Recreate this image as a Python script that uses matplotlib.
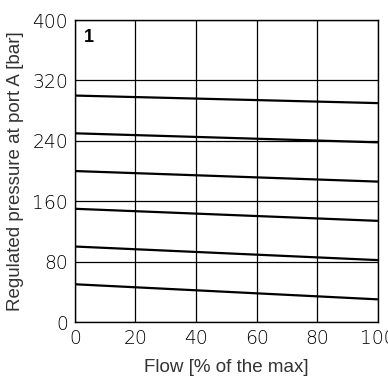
import matplotlib.pyplot as plt
from matplotlib import font_manager

# pressure curves: regulated pressure at 0% and 100% flow
flow = [0, 100]
curves = [
    [300, 290],
    [250, 238],
    [200, 186],
    [150, 134],
    [100, 82],
    [50, 30],
]
x_ticks = [0, 20, 40, 60, 80, 100]
y_ticks = [0, 80, 160, 240, 320, 400]

names = {f.name for f in font_manager.fontManager.ttflist}
tick_font = "Liberation Sans Narrow" if "Liberation Sans Narrow" in names else "DejaVu Sans"

fig = plt.figure(figsize=(3.88, 3.76), dpi=100)
ax = fig.add_axes([0.193, 0.1436, 0.781, 0.803])

for c in curves:
    ax.plot(flow, c, color="black", lw=1.6, solid_capstyle="butt")

ax.set_xlim(0, 100)
ax.set_ylim(0, 400)
ax.set_xticks(x_ticks)
ax.set_yticks(y_ticks)
ax.grid(True, color="black", lw=0.9)
ax.tick_params(length=0, pad=5, labelsize=13.5)
for lab in ax.get_xticklabels() + ax.get_yticklabels():
    lab.set_fontfamily(tick_font)
    lab.set_fontweight("light")
for s in ax.spines.values():
    s.set_linewidth(1.0)
    s.set_color("black")

ax.set_xlabel("Flow [% of the max]", fontsize=13.5, family="Liberation Sans",
              color="#333333", labelpad=8)
ax.set_ylabel("Regulated pressure at port A [bar]", fontsize=13.5, family="Liberation Sans",
              color="#333333", labelpad=6)
ax.text(3, 388, "1", fontsize=13, fontweight="bold", family="Liberation Sans",
        va="top", ha="left")

fig.savefig("out.png", dpi=100)
